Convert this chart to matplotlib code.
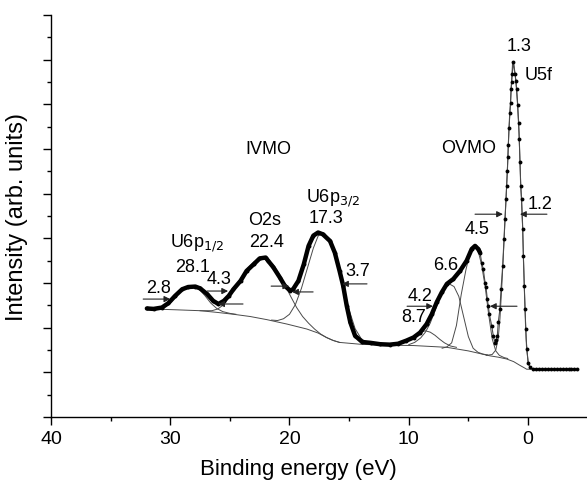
import numpy as np
import matplotlib
matplotlib.use("Agg")
import matplotlib.pyplot as plt

plt.rcParams['font.family'] = ['Liberation Sans', 'DejaVu Sans']

# measured spectrum, binding energy (eV) / intensity (arb. units)
energy = [31.96, 31.4, 30.7, 30.15, 29.6, 29.0, 28.5, 27.9, 27.5, 26.9, 26.4, 25.96,
          25.5, 25.1, 24.7, 24.1, 23.6, 23.0, 22.5, 22.0, 21.8, 21.35, 20.8, 20.4,
          19.95, 19.7, 19.25, 18.8, 18.4, 18.0, 17.6, 17.2, 16.6, 16.2, 15.8, 15.5,
          15.2, 14.9, 14.5, 13.9, 13.2, 12.4, 11.6, 10.9, 10.2, 9.6, 9.05, 8.5,
          8.07, 7.65, 7.23, 6.8, 6.26, 5.7, 5.14, 4.72, 4.44, 4.17, 4.02,
          3.88, 3.75, 3.6, 3.52, 3.41, 3.33, 3.24, 3.04, 2.91, 2.77, 2.67, 2.57,
          2.49, 2.35, 2.26, 2.12, 2.01, 1.93, 1.84, 1.79, 1.73, 1.68, 1.65, 1.59,
          1.53, 1.46, 1.42, 1.37, 1.32, 1.24, 1.09, 1.01, 0.95, 0.86, 0.78, 0.73,
          0.67, 0.61, 0.53, 0.44, 0.39, 0.31, 0.25, 0.19, 0.11, -0.03, -0.17,
          -0.4, -0.65, -0.9, -1.15, -1.4, -1.65, -1.9, -2.15, -2.4, -2.65, -2.9,
          -3.15, -3.4, -3.65, -3.9, -4.08]
intensity = [2.43, 2.42, 2.45, 2.55, 2.71, 2.86, 2.91, 2.92, 2.88, 2.75, 2.60, 2.53,
             2.60, 2.71, 2.86, 3.05, 3.27, 3.42, 3.55, 3.57, 3.50, 3.35, 3.12, 2.94,
             2.83, 2.86, 3.05, 3.42, 3.83, 4.06, 4.13, 4.09, 3.94, 3.68, 3.27, 2.94,
             2.49, 2.12, 1.82, 1.68, 1.66, 1.63, 1.62, 1.64, 1.71, 1.78, 1.89, 2.08,
             2.30, 2.57, 2.79, 2.98, 3.09, 3.27, 3.50, 3.76, 3.83, 3.76, 3.68,
             3.45, 3.31, 3.01, 2.90, 2.64, 2.49, 2.30, 2.04, 1.82, 1.66, 1.72, 1.82,
             2.12, 2.42, 2.86, 3.38, 3.98, 4.43, 4.88, 5.18, 5.50, 5.82, 6.09, 6.46,
             6.80, 7.04, 7.35, 7.50, 7.67, 7.95, 7.67, 7.52, 7.35, 6.98, 6.59, 6.22,
             5.71, 5.17, 4.88, 4.21, 3.61, 2.94, 2.42, 1.97, 1.52, 1.22, 1.11,
             1.08, 1.07, 1.07, 1.07, 1.07, 1.07, 1.07, 1.07, 1.07, 1.07, 1.07,
             1.07, 1.07, 1.07, 1.07, 1.07]

# background
bg_e = [31.7, 29.5, 27.5, 26.0, 24.7, 23.3, 21.9, 20.2, 18.55, 17.6, 16.9, 16.3, 15.8,
        14.1, 12.4, 9.6, 6.8, 5.0, 3.2, 2.5, 1.8, 1.2, 0.7, 0.3, 0.11, -0.5]
bg_i = [2.42, 2.40, 2.38, 2.34, 2.30, 2.25, 2.18, 2.08, 1.97, 1.88, 1.78, 1.71, 1.67,
        1.63, 1.61, 1.60, 1.56, 1.48, 1.37, 1.34, 1.30, 1.24, 1.16, 1.10, 1.07, 1.07]

# fitted components
u6p12_e = [31.5, 31.0, 30.5, 30.0, 29.5, 29.0, 28.6, 28.1, 27.6, 27.1, 26.6, 26.1, 25.6, 25.0, 24.5]
u6p12_i = [2.41, 2.42, 2.46, 2.55, 2.70, 2.84, 2.91, 2.93, 2.87, 2.72, 2.55, 2.43, 2.36, 2.32, 2.30]

o2s_e = [27.5, 26.5, 26.0, 25.5, 25.0, 24.5, 24.0, 23.5, 23.0, 22.4, 21.9, 21.4, 20.9, 20.4,
         19.9, 19.4, 18.9, 18.4, 17.9, 17.4, 16.9, 16.4, 15.8]
o2s_i = [2.38, 2.38, 2.42, 2.52, 2.70, 2.92, 3.14, 3.33, 3.47, 3.56, 3.54, 3.42, 3.22, 2.97,
         2.70, 2.45, 2.25, 2.10, 1.97, 1.86, 1.78, 1.72, 1.67]

u6p32_e = [21.5, 21.0, 20.5, 20.0, 19.5, 19.0, 18.5, 18.0, 17.6, 17.3, 17.0, 16.5, 16.0, 15.5,
           15.0, 14.5, 14.0, 13.5, 13.0]
u6p32_i = [2.17, 2.16, 2.20, 2.30, 2.52, 2.88, 3.33, 3.78, 4.05, 4.12, 4.09, 3.90, 3.50, 2.95,
           2.40, 1.98, 1.76, 1.66, 1.63]

ovmo1_e = [11.0, 10.5, 10.0, 9.5, 9.0, 8.6, 8.2, 7.8, 7.4, 7.0, 6.5, 6.0]
ovmo1_i = [1.62, 1.65, 1.72, 1.82, 1.90, 1.93, 1.90, 1.83, 1.74, 1.66, 1.59, 1.56]

ovmo2_e = [10.0, 9.5, 9.0, 8.6, 8.2, 7.8, 7.4, 7.0, 6.6, 6.2, 5.8, 5.4, 5.0, 4.6, 4.2, 3.8, 3.4]
ovmo2_i = [1.62, 1.67, 1.77, 1.90, 2.10, 2.38, 2.66, 2.88, 2.98, 2.92, 2.70, 2.25, 1.80, 1.54,
           1.45, 1.41, 1.39]

ovmo3_e = [7.2, 6.8, 6.4, 6.0, 5.6, 5.2, 4.9, 4.5, 4.2, 3.9, 3.6, 3.3, 3.0, 2.7, 2.4, 2.0, 1.7]
ovmo3_i = [1.54, 1.57, 1.66, 2.05, 2.74, 3.30, 3.63, 3.83, 3.74, 3.42, 2.94, 2.30, 1.75, 1.48,
           1.38, 1.33, 1.31]

u5f_e = [3.5, 3.0, 2.7, 2.5, 2.35, 2.2, 2.05, 1.9, 1.75, 1.6, 1.45, 1.3, 1.2, 1.05, 0.9, 0.75,
         0.6, 0.45, 0.3, 0.15, 0.0, -0.2, -0.6]
u5f_i = [1.38, 1.40, 1.50, 1.75, 2.20, 2.90, 3.70, 4.55, 5.40, 6.40, 7.10, 7.90, 7.93, 7.62,
         7.10, 6.35, 5.15, 4.25, 2.85, 1.75, 1.22, 1.08, 1.07]

fig = plt.figure(figsize=(5.87, 4.85), dpi=100)
ax = fig.add_axes([0.0869, 0.1381, 0.9131, 0.829])

line_c = '#4a4a4a'
ax.plot(bg_e, bg_i, color=line_c, lw=0.7)
for ce, ci in [(u6p12_e, u6p12_i), (o2s_e, o2s_i), (u6p32_e, u6p32_i),
               (ovmo1_e, ovmo1_i), (ovmo2_e, ovmo2_i), (ovmo3_e, ovmo3_i), (u5f_e, u5f_i)]:
    ax.plot(ce, ci, color=line_c, lw=0.7)

e = np.array(energy)
i = np.array(intensity)
# envelope
ax.plot(e, i, color=line_c, lw=0.8)
# dense dots in the broad region look like a thick band
dense = e >= 3.95
ax.plot(e[dense], i[dense], color='k', lw=3.2, solid_capstyle='round')
ax.plot(e, i, 'o', color='k', ms=2.8, mew=0)

ax.set_xlim(40, -4.95)
ax.set_ylim(0, 9)
ax.set_xticks([40, 30, 20, 10, 0])
ax.set_xticks([35, 25, 15, 5], minor=True)
ax.set_yticks(np.arange(0, 10, 1))
ax.set_yticks(np.arange(0.5, 9, 1), minor=True)
ax.set_yticklabels([])
ax.tick_params(axis='both', which='major', direction='out', length=6, width=1.0, labelsize=14)
ax.tick_params(axis='both', which='minor', direction='out', length=3, width=1.0)
for s in ['top', 'right']:
    ax.spines[s].set_visible(False)
for s in ['left', 'bottom']:
    ax.spines[s].set_linewidth(1.0)

ax.set_xlabel('Binding energy (eV)', fontsize=16)
ax.xaxis.set_label_coords(0.461, -0.103)
ax.set_ylabel('Intensity (arb. units)', fontsize=17, labelpad=7)

fs = 13
texts = [
    ('IVMO', 21.8, 6.0), ('O2s', 22.05, 4.43), ('22.4', 21.96, 3.94),
    ('U6p$_{1/2}$', 27.8, 3.91), ('28.1', 28.16, 3.36), ('2.8', 31.0, 2.91),
    ('4.3', 25.9, 3.09), ('U6p$_{3/2}$', 16.4, 4.92), ('17.3', 16.93, 4.47),
    ('3.7', 14.25, 3.27), ('OVMO', 4.95, 6.04), ('4.5', 4.27, 4.21),
    ('6.6', 6.87, 3.42), ('4.2', 9.05, 2.73), ('8.7', 9.56, 2.26),
    ('1.3', 0.75, 8.32), ('U5f', -0.92, 7.67), ('1.2', -1.0, 4.77),
]
for t, x, y in texts:
    ax.text(x, y, t, fontsize=fs, ha='center', va='center')

arrows = [
    (32.27, 30.0, 2.64), (26.9, 25.15, 2.82), (23.9, 25.98, 2.53),
    (21.54, 20.03, 2.93), (18.02, 19.78, 2.80), (13.5, 15.59, 2.98),
    (10.14, 7.96, 2.48), (0.92, 3.19, 2.48), (4.44, 2.10, 4.54), (-1.59, 0.67, 4.54),
]
for x0, x1, y in arrows:
    ax.annotate('', xy=(x1, y), xytext=(x0, y),
                arrowprops=dict(arrowstyle='-|>', color='#222222', lw=0.8,
                                mutation_scale=9, shrinkA=0, shrinkB=0))

fig.savefig('out.png', dpi=100)
